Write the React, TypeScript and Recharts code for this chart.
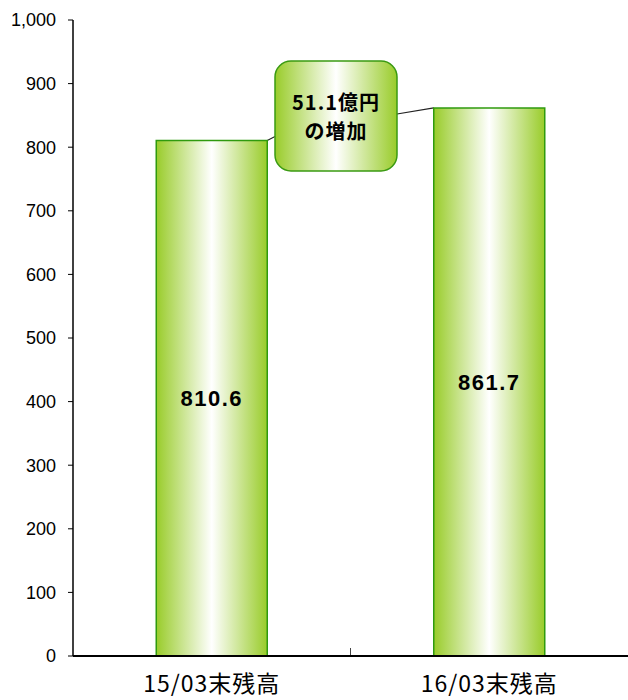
import React from 'react'
import { BarChart, Bar, XAxis, YAxis, LabelList, Customized } from 'recharts'

const categories = ['15/03末残高', '16/03末残高']
const balances = [810.6, 861.7]
const yTicks = [0, 100, 200, 300, 400, 500, 600, 700, 800, 900, 1000]
const calloutLines = ['51.1億円', 'の増加']

const data = categories.map((name, i) => ({ name, value: balances[i] }))

const W = 628
const H = 700
const M = { top: 20, right: 0, bottom: 0, left: 0 }
const Y_W = 73
const X_H = 44
const fmt = (v: number) => v.toLocaleString('en-US')

// callout box + leader lines, placed from the plot geometry
function Callout() {
  const plotTop = M.top
  const plotH = H - M.top - M.bottom - X_H
  const plotL = M.left + Y_W
  const plotW = W - plotL - M.right
  const y = (v: number) => plotTop + plotH * (1 - v / 1000)
  const band = plotW / categories.length
  const barW = band * 0.4
  const b1Right = plotL + band * 0.5 + barW / 2
  const b2Left = plotL + band * 1.5 - barW / 2
  const bx = 275, by = 61, bw = 122, bh = 110
  return (
    <g>
      <line x1={b1Right} y1={y(balances[0])} x2={bx} y2={y(balances[0]) - 4} stroke="#222" strokeWidth={1.2} />
      <line x1={bx + bw} y1={114} x2={b2Left} y2={y(balances[1])} stroke="#222" strokeWidth={1.2} />
      <rect x={bx} y={by} width={bw} height={bh} rx={16} ry={16} fill="url(#barGrad)" stroke="#3a9a12" strokeWidth={1.5} />
      {calloutLines.map((t, i) => (
        <text key={t} x={bx + bw / 2} y={by + 49 + i * 29} textAnchor="middle" fontSize={20} fontWeight="bold"
          letterSpacing={1} fontFamily="'Noto Sans CJK JP', sans-serif" fill="#000">{t}</text>
      ))}
      <line x1={plotL + band} y1={plotTop + plotH - 8} x2={plotL + band} y2={plotTop + plotH} stroke="#444" strokeWidth={1} />
    </g>
  )
}

export default function App() {
  return (
    <div style={{ position: 'absolute', left: 0, top: 0, width: W, height: H, background: '#fff' }}>
      <BarChart width={W} height={H} data={data} margin={M} barCategoryGap="30%">
        <defs>
          <linearGradient id="barGrad" x1="0" y1="0" x2="1" y2="0">
            <stop offset="0%" stopColor="#99cc2a" />
            <stop offset="50%" stopColor="#ffffff" />
            <stop offset="100%" stopColor="#99cc2a" />
          </linearGradient>
        </defs>
        <XAxis dataKey="name" height={X_H} tickLine={false} axisLine={{ stroke: '#000', strokeWidth: 2 }}
          tickMargin={14} tick={{ fill: '#000', fontSize: 23, letterSpacing: 1, fontFamily: "'Noto Sans CJK JP', sans-serif" }} />
        <YAxis width={Y_W} domain={[0, 1000]} ticks={yTicks} tickFormatter={fmt} interval={0}
          axisLine={{ stroke: '#000', strokeWidth: 1.5 }} tickLine={{ stroke: '#000' }} tickSize={5} tickMargin={12}
          tick={{ fill: '#000', fontSize: 18, fontFamily: "'Liberation Sans', Arial, sans-serif" }} />
        <Bar dataKey="value" fill="url(#barGrad)" stroke="#2f9a0e" strokeWidth={1.5} isAnimationActive={false}>
          <LabelList dataKey="value" position="center" formatter={(v: number) => v.toFixed(1)}
            style={{ fill: '#000', fontSize: 22, fontWeight: 'bold', letterSpacing: 1.5, fontFamily: "'Liberation Sans', Arial, sans-serif" }} />
        </Bar>
        <Customized component={Callout} />
      </BarChart>
    </div>
  )
}
